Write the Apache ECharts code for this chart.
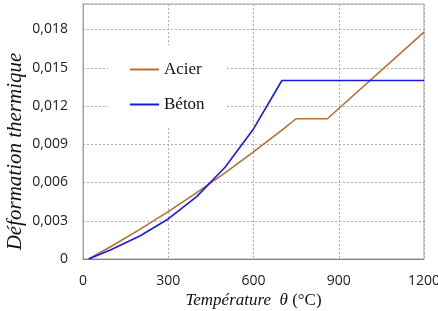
<!DOCTYPE html>
<html>
<head>
<meta charset="utf-8">
<script src="https://cdn.jsdelivr.net/npm/echarts@6/dist/echarts.min.js"></script>
<style>
  html, body { margin: 0; padding: 0; background: #fff; }
  #chart { width: 438px; height: 311px; }
</style>
</head>
<body>
<div id="chart"></div>
<script>
// températures (°C) et déformations
var acier_temp = [20, 100, 200, 300, 400, 500, 600, 700, 750, 860, 1200];
var acier_def = [0, 0.0010, 0.00232, 0.00372, 0.0052, 0.00676, 0.0084, 0.0101, 0.0110, 0.0110, 0.0178];

var beton_temp = [20, 100, 200, 300, 400, 500, 600, 700, 1200];
var beton_def = [0, 0.00074, 0.0018, 0.00314, 0.00489, 0.0072, 0.0102, 0.0140, 0.0140];

var x_ticks = [0, 300, 600, 900, 1200];
var y_ticks = [0, 0.003, 0.006, 0.009, 0.012, 0.015, 0.018];

function pairs(xs, ys) {
    var out = [];
    for (var i = 0; i < xs.length; i++) {
        out.push([xs[i], ys[i]]);
    }
    return out;
}

var myChart = echarts.init(document.getElementById('chart'));

var option = {
    animation: false,
    backgroundColor: '#fff',
    grid: {
        left: 83,
        right: 14,
        top: 4,
        bottom: 52,
        outerBoundsMode: 'none',
        containLabel: false,
        show: true,
        borderColor: '#a0a0a0',
        borderWidth: 1
    },
    legend: {
        orient: 'vertical',
        left: 108,
        top: 45,
        padding: [16, 22, 15, 22],
        backgroundColor: '#fff',
        itemGap: 18,
        itemWidth: 29,
        itemHeight: 2,
        icon: 'rect',
        textStyle: {
            fontFamily: 'Liberation Serif',
            fontSize: 17,
            color: '#111'
        },
        data: ['Acier', 'Béton']
    },
    xAxis: {
        type: 'value',
        min: x_ticks[0],
        max: x_ticks[x_ticks.length - 1],
        interval: 300,
        name: '{i|Température  θ }{n|(°C)}',
        nameLocation: 'middle',
        nameGap: 33,
        nameMoveOverlap: false,
        nameTextStyle: {
            rich: {
                i: { fontFamily: 'Liberation Serif', fontStyle: 'italic', fontSize: 17, color: '#111' },
                n: { fontFamily: 'Liberation Serif', fontSize: 17, color: '#111' }
            }
        },
        axisLine: { lineStyle: { color: '#808080', width: 1 } },
        axisTick: { show: false },
        axisLabel: {
            margin: 15,
            fontFamily: 'Open Sans',
            fontSize: 14,
            color: '#222',
            formatter: function (v) {
                return String(v);
            }
        },
        splitLine: { lineStyle: { color: '#b0b0b0', type: [2, 2] } }
    },
    yAxis: {
        type: 'value',
        min: 0,
        max: 0.02,
        interval: 0.003,
        name: 'Déformation thermique',
        nameLocation: 'middle',
        nameGap: 57,
        nameMoveOverlap: false,
        nameTextStyle: {
            fontFamily: 'Liberation Serif',
            fontStyle: 'italic',
            fontSize: 21,
            color: '#111',
            padding: [0, 40, 0, 0]
        },
        axisLine: { show: true, lineStyle: { color: '#a0a0a0' } },
        axisTick: { show: false },
        axisLabel: {
            margin: 15,
            showMaxLabel: false,
            fontFamily: 'Open Sans',
            fontSize: 14,
            color: '#222',
            formatter: function (v) {
                if (v == 0) return '0';
                return v.toFixed(3).replace('.', ',');
            }
        },
        splitLine: { lineStyle: { color: '#b0b0b0', type: [2, 2] } }
    },
    series: [
        {
            name: 'Acier',
            type: 'line',
            symbol: 'none',
            color: '#b5703a',
            lineStyle: { width: 1.6 },
            data: pairs(acier_temp, acier_def)
        },
        {
            name: 'Béton',
            type: 'line',
            symbol: 'none',
            color: '#1a1ae6',
            lineStyle: { width: 1.6 },
            data: pairs(beton_temp, beton_def)
        }
    ]
};

myChart.setOption(option);
</script>
</body>
</html>
